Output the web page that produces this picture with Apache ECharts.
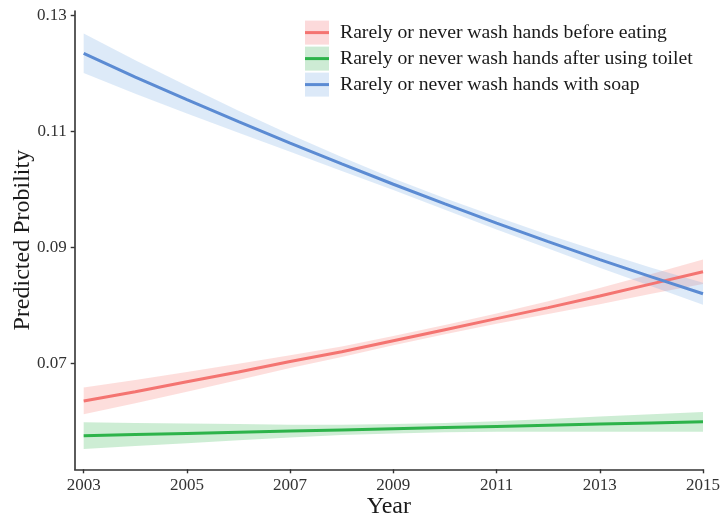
<!DOCTYPE html>
<html>
<head>
<meta charset="utf-8">
<script src="https://cdn.jsdelivr.net/npm/echarts@6/dist/echarts.min.js"></script>
<style>
  html, body { margin: 0; padding: 0; background: #fff; overflow: hidden; }
  #chart { width: 720px; height: 519px; }
</style>
</head>
<body>
<div id="chart"></div>
<script>
// Survey years
const years = [2003, 2004, 2005, 2006, 2007, 2008, 2009, 2010, 2011, 2012, 2013, 2014, 2015];

// Predicted probabilities with 95% confidence bands
const beforeEating      = [0.0635, 0.0651, 0.0668, 0.0685, 0.0703, 0.0720, 0.0739, 0.0758, 0.0777, 0.0796, 0.0816, 0.0837, 0.0858];
const beforeEatingLow   = [0.0612, 0.0631, 0.0651, 0.0671, 0.0692, 0.0711, 0.0731, 0.0750, 0.0768, 0.0785, 0.0802, 0.0820, 0.0837];
const beforeEatingHigh  = [0.0658, 0.0671, 0.0685, 0.0699, 0.0714, 0.0729, 0.0747, 0.0766, 0.0786, 0.0807, 0.0830, 0.0854, 0.0879];

const afterToilet       = [0.0575, 0.0577, 0.0579, 0.0581, 0.0583, 0.0585, 0.0587, 0.0589, 0.0591, 0.0593, 0.0595, 0.0597, 0.0599];
const afterToiletLow    = [0.0552, 0.0557, 0.0562, 0.0567, 0.0572, 0.0576, 0.0579, 0.0581, 0.0582, 0.0582, 0.0582, 0.0582, 0.0582];
const afterToiletHigh   = [0.0598, 0.0597, 0.0596, 0.0595, 0.0594, 0.0594, 0.0595, 0.0597, 0.0600, 0.0604, 0.0608, 0.0612, 0.0616];

const withSoap          = [0.1235, 0.1194, 0.1155, 0.1117, 0.1080, 0.1044, 0.1009, 0.0975, 0.0942, 0.0910, 0.0879, 0.0849, 0.0820];
const withSoapLow       = [0.1201, 0.1165, 0.1131, 0.1098, 0.1065, 0.1032, 0.0999, 0.0965, 0.0931, 0.0898, 0.0865, 0.0833, 0.0801];
const withSoapHigh      = [0.1269, 0.1223, 0.1179, 0.1136, 0.1095, 0.1056, 0.1019, 0.0985, 0.0953, 0.0922, 0.0893, 0.0865, 0.0839];

// Axis ticks
const xTicks = [2003, 2005, 2007, 2009, 2011, 2013, 2015];
const yTicks = [0.07, 0.09, 0.11, 0.13];

const seriesNames = [
  'Rarely or never wash hands before eating',
  'Rarely or never wash hands after using toilet',
  'Rarely or never wash hands with soap'
];

const lineColors = ['#f47471', '#2db34a', '#5b8bd3'];
const bandColors = ['rgba(248,118,109,0.24)', 'rgba(45,179,74,0.24)', 'rgba(100,160,225,0.22)'];
const keyColors = ['#fcdadb', '#cdebd4', '#dce9f8'];

const FONT = '"Liberation Serif", "Times New Roman", serif';

const groups = [
  { name: seriesNames[0], mid: beforeEating, low: beforeEatingLow, high: beforeEatingHigh },
  { name: seriesNames[1], mid: afterToilet, low: afterToiletLow, high: afterToiletHigh },
  { name: seriesNames[2], mid: withSoap, low: withSoapLow, high: withSoapHigh }
];

const pairs = arr => years.map((y, i) => [y, arr[i]]);

const series = [];
// Confidence bands: one polygon per group, upper edge forward, lower edge back
groups.forEach((g, k) => {
  series.push({
    name: g.name + ' band',
    type: 'custom',
    silent: true,
    z: 1,
    data: [0],
    renderItem: (params, api) => {
      const pts = [];
      years.forEach((y, i) => pts.push(api.coord([y, g.high[i]])));
      for (let i = years.length - 1; i >= 0; i--) pts.push(api.coord([years[i], g.low[i]]));
      return {
        type: 'polygon',
        shape: { points: pts },
        style: { fill: bandColors[k] }
      };
    }
  });
});
groups.forEach((g, k) => {
  series.push({
    name: g.name,
    type: 'line',
    data: pairs(g.mid),
    showSymbol: false,
    lineStyle: { color: lineColors[k], width: 3 },
    itemStyle: { color: lineColors[k] },
    z: 3
  });
});

const legendTop = 19.6;
const legendRow = 26;

const chart = echarts.init(document.getElementById('chart'), null, { renderer: 'canvas' });
chart.setOption({
  animation: false,
  backgroundColor: '#ffffff',
  grid: { left: 74.7, right: 17, top: 11, bottom: 49.7, containLabel: false, outerBoundsMode: 'none' },
  legend: {
    data: seriesNames,
    orient: 'vertical',
    left: 305,
    top: legendTop,
    padding: 0,
    itemGap: 0,
    itemWidth: 24,
    itemHeight: 3,
    icon: 'rect',
    textStyle: { fontFamily: FONT, fontSize: 19.7, lineHeight: legendRow, color: '#1a1a1a', padding: [0, 0, 0, 6] },
    z: 5
  },
  graphic: seriesNames.map((n, i) => ({
    type: 'rect',
    left: 305,
    top: legendTop + 1 + i * legendRow,
    z: 4,
    silent: true,
    shape: { width: 24, height: 24 },
    style: { fill: keyColors[i] }
  })),
  xAxis: {
    type: 'value',
    min: 2002.826,
    max: 2015,
    name: 'Year',
    nameLocation: 'middle',
    nameGap: 25,
    nameMoveOverlap: false,
    nameTextStyle: { fontFamily: FONT, fontSize: 24, color: '#1a1a1a' },
    splitLine: { show: false },
    axisLine: { lineStyle: { color: '#333', width: 1.6 } },
    axisTick: { customValues: xTicks, length: 4, lineStyle: { color: '#333', width: 1.4 } },
    axisLabel: { customValues: xTicks, fontFamily: FONT, fontSize: 17, color: '#333', margin: 8,
                 formatter: v => String(v) }
  },
  yAxis: {
    type: 'value',
    min: 0.0517,
    max: 0.1308,
    name: 'Predicted Probility',
    nameLocation: 'middle',
    nameGap: 40,
    nameMoveOverlap: false,
    nameTextStyle: { fontFamily: FONT, fontSize: 24, color: '#1a1a1a' },
    splitLine: { show: false },
    axisLine: { show: true, lineStyle: { color: '#333', width: 1.6 } },
    axisTick: { show: true, customValues: yTicks, length: 4, lineStyle: { color: '#333', width: 1.4 } },
    axisLabel: { customValues: yTicks, fontFamily: FONT, fontSize: 17, color: '#333', margin: 8,
                 formatter: v => v.toFixed(2) }
  },
  series: series
});
</script>
</body>
</html>
